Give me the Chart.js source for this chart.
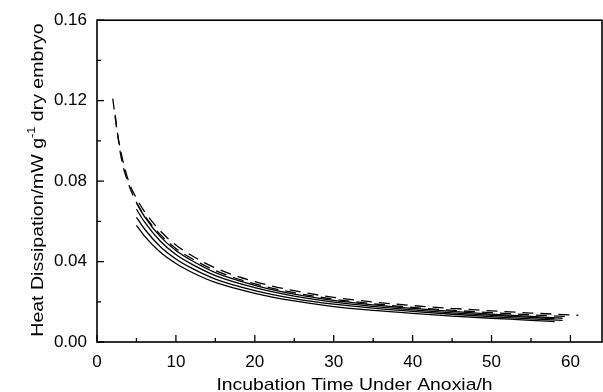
<!DOCTYPE html>
<html>
<head>
<meta charset="utf-8">
<script src="https://cdn.jsdelivr.net/npm/chart.js@4/dist/chart.umd.min.js"></script>
<style>
  html, body { margin: 0; padding: 0; background: #fff; }
  #grafico { display: block; }
</style>
</head>
<body>
<canvas id="grafico" width="603" height="392"></canvas>
<script>
// Datos (horas de incubacion vs disipacion de calor)
const horasDashA = [2, 2.5, 3, 4, 5, 6, 8, 10, 12, 15, 20, 25, 30, 35, 40, 45, 50, 55, 61];
const dashA = [0.121, 0.106, 0.095, 0.080, 0.0715, 0.065, 0.0553, 0.0482, 0.043, 0.0368, 0.030, 0.0255, 0.0222, 0.0199, 0.0181, 0.0167, 0.0155, 0.0144, 0.0133];

const horasDashB = [2.3, 3, 4, 5, 6, 8, 10, 12, 15, 20, 25, 30, 35, 40, 45, 50, 55, 60];
const dashB = [0.113, 0.093, 0.0785, 0.0695, 0.063, 0.0535, 0.0465, 0.0415, 0.0355, 0.0289, 0.0245, 0.0213, 0.019, 0.0172, 0.0158, 0.0146, 0.0135, 0.0126];

const horasSolidas = [5, 6, 8, 10, 12, 15, 20, 25, 30, 35, 40, 45, 50, 55];
const solida1 = [0.069, 0.0625, 0.0525, 0.0455, 0.0405, 0.0345, 0.0282, 0.0238, 0.0207, 0.0185, 0.0167, 0.0152, 0.0139, 0.0127];
const solida2 = [0.066, 0.0598, 0.0502, 0.0435, 0.0387, 0.033, 0.027, 0.0228, 0.0198, 0.0177, 0.016, 0.0145, 0.0133, 0.0122];
const solida3 = [0.062, 0.0563, 0.0475, 0.0413, 0.0367, 0.0313, 0.0256, 0.0216, 0.0188, 0.0168, 0.0152, 0.0138, 0.0126, 0.0115];
const solida4 = [0.058, 0.0528, 0.0447, 0.039, 0.0347, 0.0296, 0.0242, 0.0204, 0.0176, 0.0157, 0.0142, 0.0129, 0.0118, 0.0108];
const finSolidas = [[59, 0.0118], [58, 0.0116], [59, 0.0108], [58, 0.0101]];

const ticksX = [0, 10, 20, 30, 40, 50, 60];
const ticksXMenores = [5, 15, 25, 35, 45, 55];
const ticksY = [0, 0.04, 0.08, 0.12, 0.16];
const ticksYMenores = [0.02, 0.06, 0.10, 0.14];

const tituloX = 'Incubation Time Under Anoxia/h';
const tituloY = ['Heat Dissipation/mW g', '-1', ' dry embryo'];

const FUENTE = '"Liberation Sans", Arial, sans-serif';

function unir(xs, ys) {
    return xs.map((x, i) => ({ x: x, y: ys[i] }));
}

function serie(puntos, dash) {
    return {
        data: puntos,
        borderColor: '#000',
        borderWidth: 1.3,
        borderDash: dash,
        pointRadius: 0,
        fill: false,
        cubicInterpolationMode: 'monotone'
    };
}

const solidas = [solida1, solida2, solida3, solida4];
const datasets = [
    serie(unir(horasDashA, dashA), [11, 7]),
    serie(unir(horasDashB, dashB), [11, 7])
];
solidas.forEach((s, i) => {
    const pts = unir(horasSolidas, s);
    pts.push({ x: finSolidas[i][0], y: finSolidas[i][1] });
    datasets.push(serie(pts, []));
});

// Marco, marcas hacia dentro y titulos de ejes
const marcoPlugin = {
    id: 'marco',
    afterDraw(chart) {
        const ctx = chart.ctx;
        const a = chart.chartArea;
        const sx = chart.scales.x;
        const sy = chart.scales.y;
        ctx.save();
        ctx.strokeStyle = '#000';
        ctx.lineWidth = 1.6;
        ctx.strokeRect(a.left, a.top, a.right - a.left, a.bottom - a.top);

        ctx.lineWidth = 1.3;
        ctx.beginPath();
        ticksX.forEach(v => {
            const px = sx.getPixelForValue(v);
            ctx.moveTo(px, a.bottom); ctx.lineTo(px, a.bottom - 7);
        });
        ticksXMenores.forEach(v => {
            const px = sx.getPixelForValue(v);
            ctx.moveTo(px, a.bottom); ctx.lineTo(px, a.bottom - 4);
        });
        ticksY.forEach(v => {
            const py = sy.getPixelForValue(v);
            ctx.moveTo(a.left, py); ctx.lineTo(a.left + 7, py);
        });
        ticksYMenores.forEach(v => {
            const py = sy.getPixelForValue(v);
            ctx.moveTo(a.left, py); ctx.lineTo(a.left + 4, py);
        });
        ctx.stroke();

        // titulo X
        ctx.fillStyle = '#000';
        ctx.textBaseline = 'alphabetic';
        ctx.textAlign = 'center';
        ctx.font = '17px ' + FUENTE;
        ctx.save();
        ctx.translate((a.left + a.right) / 2 + 5, 390);
        ctx.scale(1.14, 1);
        ctx.fillText(tituloX, 0, 0);
        ctx.restore();

        // titulo Y con superindice
        ctx.save();
        ctx.translate(43, (a.top + a.bottom) / 2 - 1);
        ctx.rotate(-Math.PI / 2);
        ctx.scale(1.15, 1);
        ctx.font = '17px ' + FUENTE;
        const w1 = ctx.measureText(tituloY[0]).width;
        const w3 = ctx.measureText(tituloY[2]).width;
        ctx.font = '11px ' + FUENTE;
        const w2 = ctx.measureText(tituloY[1]).width;
        const total = w1 + w2 + w3;
        let x0 = -total / 2;
        ctx.textAlign = 'left';
        ctx.font = '17px ' + FUENTE;
        ctx.fillText(tituloY[0], x0, 0);
        ctx.font = '11px ' + FUENTE;
        ctx.fillText(tituloY[1], x0 + w1, -8);
        ctx.font = '17px ' + FUENTE;
        ctx.fillText(tituloY[2], x0 + w1 + w2, 0);
        ctx.restore();

        ctx.restore();
    }
};

new Chart(document.getElementById('grafico'), {
    type: 'line',
    data: { datasets: datasets },
    options: {
        responsive: false,
        animation: false,
        layout: { padding: { top: 17, right: 1, left: 0, bottom: 0 } },
        plugins: {
            legend: { display: false },
            tooltip: { enabled: false },
            title: { display: false }
        },
        scales: {
            x: {
                type: 'linear',
                min: 0,
                max: 64,
                afterBuildTicks: s => { s.ticks = ticksX.map(v => ({ value: v })); },
                afterFit: s => { s.height = 50; },
                grid: { display: false, drawTicks: false },
                border: { display: false },
                ticks: {
                    color: '#000',
                    padding: 10,
                    maxRotation: 0,
                    font: { family: FUENTE, size: 17 }
                }
            },
            y: {
                type: 'linear',
                min: 0,
                max: 0.16,
                afterBuildTicks: s => { s.ticks = ticksY.map(v => ({ value: v })); },
                afterFit: s => { s.width = 97; },
                grid: { display: false, drawTicks: false },
                border: { display: false },
                ticks: {
                    color: '#000',
                    padding: 10,
                    font: { family: FUENTE, size: 17 },
                    callback: v => Number(v).toFixed(2)
                }
            }
        }
    },
    plugins: [marcoPlugin]
});
</script>
</body>
</html>
